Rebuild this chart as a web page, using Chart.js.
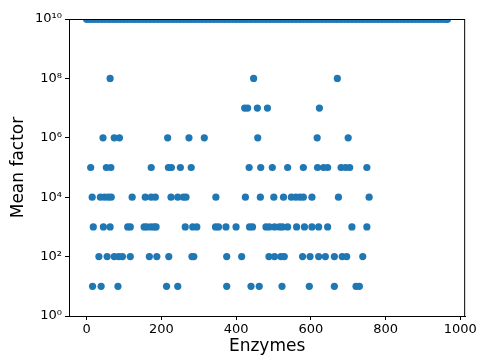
<!DOCTYPE html>
<html>
<head>
<meta charset="utf-8">
<script src="https://cdn.jsdelivr.net/npm/chart.js@4.4.1/dist/chart.umd.min.js"></script>
<style>
  html, body { margin: 0; padding: 0; background: #fff; }
  #wrap { width: 479px; height: 357px; }
</style>
</head>
<body>
<div id="wrap"><canvas id="chart" width="479" height="357"></canvas></div>
<script>
// enzymes whose mean factor is at the 1e10 cap (dense band at the top)
const capX = [1, 10, 20, 30, 40, 50, 60, 70, 80, 90, 100, 110, 120, 130, 140, 150, 160, 170, 180, 190,
  200, 210, 220, 230, 240, 250, 260, 270, 280, 290, 300, 310, 320, 330, 340, 350, 360, 370, 380, 390,
  400, 410, 420, 430, 440, 450, 460, 470, 480, 490, 500, 510, 520, 530, 540, 550, 560, 570, 580, 590,
  600, 610, 620, 630, 640, 650, 660, 670, 680, 690, 700, 710, 720, 730, 740, 750, 760, 770, 780, 790,
  800, 810, 820, 830, 840, 850, 860, 870, 880, 890, 900, 910, 920, 930, 940, 950, 960, 965];
const capValue = 1e10;

// enzymes at each lower decade
const e8 = [63, 447, 671];
const e7 = [423, 431, 457, 484, 623];
const e6 = [44, 74, 88, 217, 274, 315, 458, 617, 700];
const e5 = [11, 53, 65, 173, 219, 227, 251, 280, 435, 466, 497, 538, 580, 618, 634, 645, 681, 693, 704, 750];
const e4 = [15, 37, 48, 58, 66, 122, 157, 173, 184, 226, 244, 259, 266, 346, 425, 465, 501, 527, 548,
  560, 571, 580, 603, 674, 756];
const e3 = [18, 45, 63, 110, 117, 154, 161, 172, 181, 186, 264, 284, 295, 345, 353, 373, 400, 436, 444,
  480, 489, 503, 516, 524, 538, 562, 583, 603, 621, 645, 710, 750];
const e2 = [33, 55, 74, 86, 96, 117, 168, 188, 220, 282, 287, 375, 415, 488, 503, 520, 529, 578, 598,
  621, 639, 663, 684, 696, 739];
const e1 = [16, 39, 84, 214, 244, 375, 440, 462, 523, 596, 663, 721, 730];

const xTicks = [0, 200, 400, 600, 800, 1000];
const yTicks = [1, 1e2, 1e4, 1e6, 1e8, 1e10];

const blue = '#1f77b4';
const sup = { '0': '⁰', '1': '¹', '2': '²', '3': '³', '4': '⁴', '5': '⁵', '6': '⁶', '7': '⁷', '8': '⁸', '9': '⁹' };

function toPoints(xs, v) {
  return xs.map(x => ({ x: x, y: v }));
}

const lowPoints = [].concat(
  toPoints(e8, 1e8), toPoints(e7, 1e7), toPoints(e6, 1e6), toPoints(e5, 1e5),
  toPoints(e4, 1e4), toPoints(e3, 1e3), toPoints(e2, 1e2), toPoints(e1, 1e1)
);

// box around the plot area, drawn over the markers like matplotlib spines
const frame = {
  id: 'frame',
  afterDatasetsDraw(chart) {
    const a = chart.chartArea;
    const c = chart.ctx;
    c.save();
    c.strokeStyle = '#000';
    c.lineWidth = 1;
    c.strokeRect(a.left + 0.5, a.top + 0.5, a.right - a.left - 1, a.bottom - a.top);
    c.restore();
  }
};

const ctx = document.getElementById('chart').getContext('2d');
new Chart(ctx, {
  type: 'scatter',
  data: {
    datasets: [
      {
        data: toPoints(capX, capValue),
        backgroundColor: blue,
        borderWidth: 0,
        pointRadius: 4,
        clip: 0
      },
      {
        data: lowPoints,
        backgroundColor: blue,
        borderWidth: 0,
        pointRadius: 3.6,
        clip: false
      }
    ]
  },
  options: {
    responsive: false,
    animation: false,
    events: [],
    layout: { padding: { top: 19, right: 13, left: 0, bottom: 0 } },
    plugins: {
      legend: { display: false },
      tooltip: { enabled: false }
    },
    scales: {
      x: {
        type: 'linear',
        min: -47,
        max: 1013,
        afterBuildTicks: s => { s.ticks = xTicks.map(v => ({ value: v })); },
        afterFit: s => { s.height = 41; },
        grid: { display: true, drawOnChartArea: false, tickLength: 4, tickColor: '#000' },
        border: { display: true, color: '#000' },
        ticks: {
          color: '#000',
          padding: 2,
          maxRotation: 0,
          font: { family: 'DejaVu Sans', size: 13 },
          callback: v => String(v)
        },
        title: {
          display: true,
          text: 'Enzymes',
          color: '#000',
          padding: { top: 0, bottom: 0 },
          font: { family: 'DejaVu Sans', size: 17 }
        }
      },
      y: {
        type: 'logarithmic',
        min: 1,
        max: 1e10,
        afterBuildTicks: s => { s.ticks = yTicks.map(v => ({ value: v })); },
        afterFit: s => { s.width = 69; },
        grid: { display: true, drawOnChartArea: false, tickLength: 4, tickColor: '#000' },
        border: { display: true, color: '#000' },
        ticks: {
          color: '#000',
          padding: 3,
          font: { family: 'DejaVu Sans', size: 13 },
          callback: v => '10' + String(Math.round(Math.log10(v))).split('').map(d => sup[d]).join('')
        },
        title: {
          display: true,
          text: 'Mean factor',
          color: '#000',
          padding: { top: 8, bottom: 0 },
          font: { family: 'DejaVu Sans', size: 17 }
        }
      }
    }
  },
  plugins: [frame]
});
</script>
</body>
</html>
